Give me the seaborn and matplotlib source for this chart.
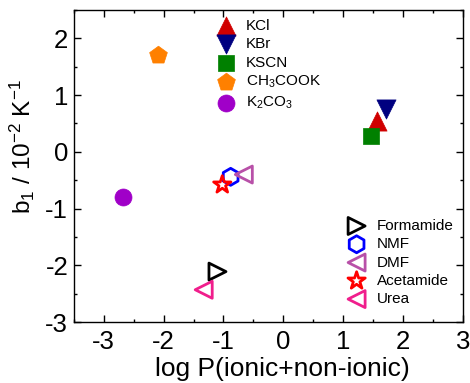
import matplotlib
matplotlib.use("Agg")
import matplotlib.pyplot as plt
from matplotlib.ticker import MultipleLocator
import seaborn as sns
import pandas as pd

sns.set_style("ticks")
plt.rcParams["font.family"] = ["Liberation Sans", "DejaVu Sans"]
plt.rcParams["mathtext.fontset"] = "custom"
plt.rcParams["mathtext.rm"] = "Liberation Sans"
plt.rcParams["mathtext.it"] = "Liberation Sans:italic"
plt.rcParams["axes.unicode_minus"] = False
plt.rcParams["text.color"] = "black"
plt.rcParams["axes.labelcolor"] = "black"
plt.rcParams["xtick.color"] = "black"
plt.rcParams["ytick.color"] = "black"

# Salts (filled symbols)
salt_names = ["KCl", "KBr", "KSCN", "CH$_3$COOK", "K$_2$CO$_3$"]
salt_logp = [1.57, 1.72, 1.46, -2.10, -2.67]
salt_b1 = [0.54, 0.75, 0.28, 1.71, -0.79]
salt_markers = ["^", "v", "s", "p", "o"]
salt_sizes = [190, 190, 120, 180, 150]
salt_colors = ["#D00000", "#000080", "#008000", "#FF8000", "#A000C8"]

# Non-ionic solutes (open symbols)
org_names = ["Formamide", "NMF", "DMF", "Acetamide", "Urea"]
org_logp = [-1.10, -0.88, -0.66, -1.02, -1.33]
org_b1 = [-2.11, -0.44, -0.40, -0.58, -2.43]
org_markers = [">", "h", "<", "*", "<"]
org_sizes = [150, 150, 150, 170, 150]
org_colors = ["#000000", "#0000FF", "#B850A8", "#FF0000", "#F01E8C"]

fig = plt.figure(figsize=(4.7, 3.83), dpi=100)
ax = fig.add_axes([0.157, 0.159, 0.828, 0.815])

salt_handles = []
for n, x, y, m, sz, c in zip(salt_names, salt_logp, salt_b1, salt_markers,
                             salt_sizes, salt_colors):
    d = pd.DataFrame({"x": [x], "y": [y]})
    sns.scatterplot(data=d, x="x", y="y", marker=m, s=sz, color=c, edgecolor=c,
                    linewidth=0.5, ax=ax, label=n, legend=False, zorder=3)
    salt_handles.append(ax.collections[-1])

org_handles = []
for n, x, y, m, sz, c in zip(org_names, org_logp, org_b1, org_markers,
                             org_sizes, org_colors):
    d = pd.DataFrame({"x": [x], "y": [y]})
    sns.scatterplot(data=d, x="x", y="y", marker=m, s=sz, facecolors="none",
                    edgecolor=c, linewidth=2.0, ax=ax, label=n, legend=False,
                    zorder=3)
    org_handles.append(ax.collections[-1])

ax.set_xlim(-3.5, 3.0)
ax.set_ylim(-3.0, 2.5)
ax.xaxis.set_major_locator(MultipleLocator(1))
ax.xaxis.set_minor_locator(MultipleLocator(0.5))
ax.yaxis.set_major_locator(MultipleLocator(1))
ax.yaxis.set_minor_locator(MultipleLocator(0.5))
ax.tick_params(which="both", direction="in", top=True, right=True,
               labelsize=18.5, width=1.0, color="black", labelcolor="black")
ax.tick_params(axis="x", which="major", pad=5.5)
ax.tick_params(axis="y", which="major", pad=4)
ax.tick_params(which="major", length=5)
ax.tick_params(which="minor", length=2.5)
for s in ax.spines.values():
    s.set_linewidth(1.0)
    s.set_color("black")

ax.set_xlabel("log P(ionic+non-ionic)", fontsize=19)
ax.xaxis.set_label_coords(0.536, -0.112)
ax.xaxis.label.set_va("top")
ax.set_ylabel("b$_1$ / 10$^{-2}$ K$^{-1}$", fontsize=17.5)
ax.yaxis.set_label_coords(-0.095, 0.564)

leg1 = ax.legend(handles=salt_handles, labels=salt_names, loc="upper left",
                 bbox_to_anchor=(0.325, 1.005), frameon=False, fontsize=11,
                 handletextpad=0.3, labelspacing=0.28, borderaxespad=0.3)
ax.add_artist(leg1)
ax.legend(handles=org_handles, labels=org_names, loc="lower left",
          bbox_to_anchor=(0.66, 0.017), frameon=False, fontsize=11,
          handletextpad=0.3, labelspacing=0.28, borderaxespad=0.3)

fig.savefig("out.png", dpi=100)
